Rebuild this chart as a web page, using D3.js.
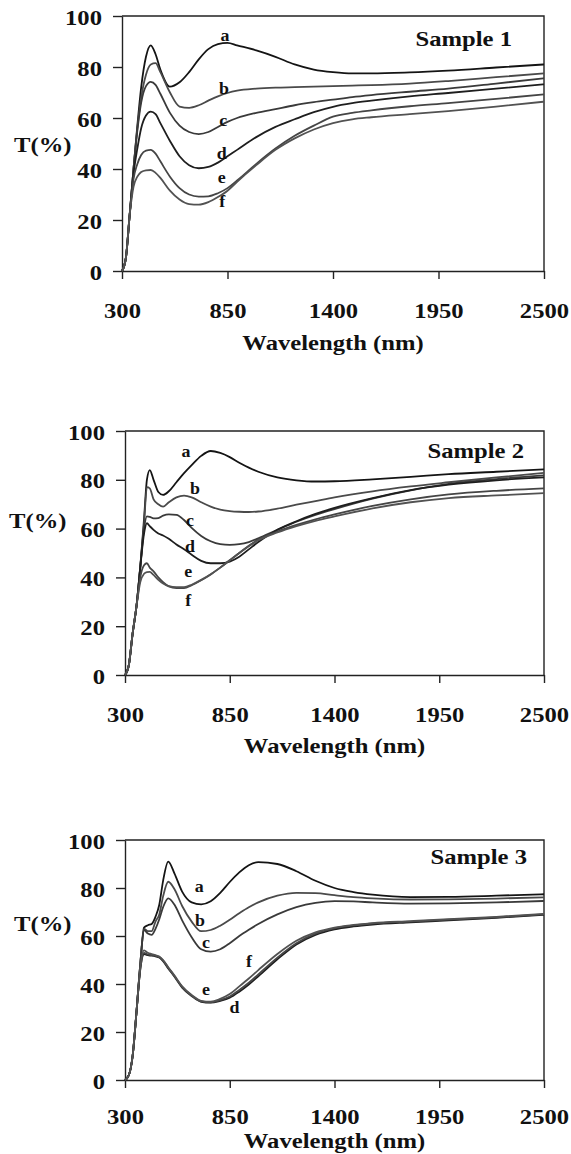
<!DOCTYPE html>
<html>
<head>
<meta charset="utf-8">
<script src="https://cdn.jsdelivr.net/npm/d3@7"></script>
<style>
  body { margin: 0; background: #fff; }
  svg { display: block; }
</style>
</head>
<body>
<div id="chart"></div>
<script>
// curve names and axis ticks shared by the three panels
const curveNames = ["a", "b", "c", "d", "e", "f"];
const xTicks = [300, 850, 1400, 1950, 2500];
const yTicks = [0, 20, 40, 60, 80, 100];

// Sample 1 (wavelength in nm, T in %)
const wl1 = [300, 320, 340, 360, 380, 400, 425, 450, 475, 500, 550, 600, 650, 700, 750, 800, 850, 900, 1000, 1100, 1200, 1300, 1400, 1500, 1600, 1800, 2000, 2250, 2500];
const s1a = [0, 5, 22, 40, 57, 72, 84, 88.5, 85, 79, 72.3, 74, 78, 83, 87, 89, 89.5, 88.5, 86.5, 84, 81, 79, 78, 77.5, 77.5, 77.9, 78.6, 79.8, 81];
const s1b = [0, 5, 22, 40, 56, 68, 77, 81, 81.5, 78, 70, 64.5, 64, 65, 66.8, 68.5, 69.8, 70.7, 71.5, 71.9, 72.1, 72.3, 72.5, 72.7, 72.9, 73.5, 74.5, 76, 77.5];
const s1c = [0, 5, 22, 40, 55, 66, 72.5, 74.2, 73, 69.5, 62, 57, 54.5, 53.7, 54.5, 56.5, 58.5, 60, 62, 63.5, 65, 66.2, 67.2, 68.2, 69, 70.3, 71.5, 73.5, 75.6];
const s1d = [0, 5, 22, 38, 48, 56, 61, 62.5, 61.5, 58, 51, 45, 41.5, 40.3, 40.8, 42.5, 45, 47.5, 52.5, 56.5, 59.5, 62.3, 64.4, 65.8, 66.8, 68.5, 69.8, 71.5, 73.2];
const s1e = [0, 5, 22, 36, 42, 45.5, 47.2, 47.5, 46, 43, 37, 32.5, 30, 29.2, 29.3, 30.5, 32.5, 35.5, 42, 48, 53, 57, 60.5, 62, 63, 64.6, 65.8, 67.5, 69.3];
const s1f = [0, 5, 22, 33, 37, 38.8, 39.5, 39.6, 38.5, 36.5, 31.5, 28, 26.2, 26, 27, 29, 31.5, 35, 41.5, 47.5, 52, 55.5, 58, 59.5, 60.3, 61.5, 62.7, 64.5, 66.4];
// where the letters a-f sit, [nm, T]
const lab1 = [[837, 91.9], [832, 71], [828, 58.6], [820, 45.5], [820, 36], [822, 26.8]];

// Sample 2
const wl2 = [300, 320, 340, 360, 380, 400, 415, 430, 450, 475, 500, 530, 570, 610, 650, 700, 750, 800, 850, 900, 950, 1000, 1100, 1200, 1300, 1400, 1600, 1800, 2000, 2250, 2500];
const s2a = [0, 4, 17, 28, 44, 64, 80, 84, 80, 75, 73.8, 75.3, 79, 82.7, 86, 89.8, 91.8, 91, 89.3, 87, 85, 83.3, 81, 79.8, 79.3, 79.4, 80.2, 81.2, 82.3, 83.3, 84.3];
const s2b = [0, 4, 17, 28, 44, 62, 77, 76.5, 72, 70, 69, 70.8, 72.8, 73.5, 72.8, 70.8, 69, 67.8, 67.2, 66.9, 66.8, 67, 68.2, 69.8, 71.3, 72.8, 75.3, 77.3, 79, 81, 82.8];
const s2c = [0, 4, 17, 28, 44, 60, 65, 64.8, 64.2, 64.3, 65.3, 65.8, 65.6, 63.5, 60.3, 57, 54.8, 53.6, 53.3, 53.6, 54.5, 56, 59.5, 62.8, 65.6, 68, 72.3, 75.7, 78.3, 80.3, 81.8];
const s2d = [0, 4, 17, 28, 44, 58, 62.2, 61, 59.5, 58, 57.2, 55.8, 53.5, 51.5, 49.3, 46.8, 45.8, 45.8, 46.5, 48.5, 51.5, 54.5, 59.5, 63, 66, 68.5, 72.5, 75.8, 78, 79.8, 81];
const s2e = [0, 4, 17, 28, 40, 45, 45.8, 44, 42.5, 40, 38, 36.3, 35.6, 35.6, 36.8, 38.8, 41.2, 44, 47, 50, 53, 55.5, 58.8, 61.5, 63.8, 65.8, 69.3, 72, 74, 75.5, 76.5];
const s2f = [0, 4, 17, 28, 38, 41.5, 42.2, 42.3, 41, 39, 37.5, 36.4, 36, 36, 37, 39, 41.3, 44, 47, 50, 52.8, 55.2, 58.4, 61, 63.2, 65, 68.3, 70.8, 72.5, 73.6, 74.5];
const lab2 = [[620, 90.9], [667, 75.8], [641, 62.8], [641, 51.9], [632, 41.7], [632, 30]];

// Sample 3
const wl3 = [300, 320, 340, 360, 380, 400, 420, 440, 460, 480, 500, 527, 560, 600, 650, 700, 750, 800, 850, 900, 950, 1000, 1100, 1200, 1300, 1400, 1500, 1600, 1800, 2000, 2250, 2500];
const s3a = [0, 2, 10, 28, 48, 63.5, 64.5, 65, 68, 73, 83, 91, 86, 78.5, 74, 73.2, 74.5, 78, 82.5, 86.5, 89.5, 90.8, 90, 87, 83, 80, 78.3, 77.2, 76.2, 76.3, 76.8, 77.4];
const s3b = [0, 2, 10, 28, 48, 63, 62, 62, 66, 69, 76.5, 82.6, 79.5, 72.5, 66, 62, 62.5, 64.3, 66.8, 69.5, 72, 74, 76.8, 78, 77.9, 77, 76.2, 75.7, 75.2, 75.3, 75.6, 76.1];
const s3c = [0, 2, 10, 28, 48, 62.5, 61, 60.5, 63, 67, 72, 75.7, 73, 66.5, 59.5, 54.5, 53.5, 54.5, 57, 60, 62.6, 65, 69, 72, 73.8, 74.5, 74.4, 74, 73.5, 73.6, 74, 74.6];
const s3d = [0, 2, 10, 28, 46, 52.5, 52, 51.8, 51.5, 51, 49.5, 46.5, 43, 38.5, 35, 32.6, 32.2, 33, 34.3, 36.8, 39.8, 43.2, 50.3, 56.5, 60.5, 62.8, 64, 64.8, 65.7, 66.5, 67.6, 68.8];
const s3e = [0, 2, 10, 28, 46, 53, 52.3, 52, 51.7, 51.2, 49.8, 46.8, 43.2, 38.8, 35.2, 32.8, 32.4, 33.3, 34.8, 37.5, 40.5, 44, 51, 57, 61, 63.2, 64.4, 65.2, 66, 66.8, 67.8, 69];
const s3f = [0, 2, 10, 28, 47, 54, 53, 52.5, 52, 51.5, 50, 47, 43.5, 39, 35.4, 33, 32.6, 33.8, 35.8, 39, 42.3, 45.8, 52.5, 58, 61.5, 63.5, 64.6, 65.4, 66.2, 67, 68, 69.2];
const lab3 = [[690, 79.9], [694, 66], [725, 56.7], [875, 29.6], [725, 37.2], [951, 48.6]];

const W = 571, H = 1154;
const serif = "'Liberation Serif', 'Times New Roman', Times, serif";
const stretch = 1.12;   // the scan is a bit wide, so text gets stretched sideways
const lineColors = ["#141414", "#4a4a4a", "#3a3a3a", "#1e1e1e", "#454545", "#525252"];

const svg = d3.select("#chart")
    .append("svg")
    .attr("width", W)
    .attr("height", H);

// bold serif text, stretched horizontally
function label(g, x, y, str, size, anchor, sx = stretch) {
    return g.append("text")
        .attr("transform", `translate(${x},${y}) scale(${sx},1)`)
        .attr("text-anchor", anchor)
        .style("font-family", serif)
        .style("font-weight", "bold")
        .style("font-size", size + "px")
        .style("fill", "#111")
        .text(str);
}

const panels = [
    { title: "Sample 1", wl: wl1, series: [s1a, s1b, s1c, s1d, s1e, s1f], labs: lab1,
      left: 122, right: 544, top: 16, bottom: 271, tx: 14, ty: 152, titleX: 512, titleY: 46,
      tickY: 47, wlY: 350, wlSize: 22 },
    { title: "Sample 2", wl: wl2, series: [s2a, s2b, s2c, s2d, s2e, s2f], labs: lab2,
      left: 125, right: 544, top: 431, bottom: 675, tx: 9, ty: 528, titleX: 524, titleY: 458,
      tickY: 47, wlY: 753, wlSize: 22 },
    { title: "Sample 3", wl: wl3, series: [s3a, s3b, s3c, s3d, s3e, s3f], labs: lab3,
      left: 125, right: 544, top: 840, bottom: 1080, tx: 14, ty: 931, titleX: 527, titleY: 864,
      tickY: 44, wlY: 1148, wlSize: 20.5 }
];

panels.forEach(p => {
    const g = svg.append("g");

    const x = d3.scaleLinear().domain([300, 2500]).range([p.left, p.right]);
    const y = d3.scaleLinear().domain([0, 100]).range([p.bottom, p.top]);

    // y axis
    const yAxis = g.append("g")
        .attr("transform", `translate(${p.left},0)`)
        .call(d3.axisLeft(y).tickValues(yTicks).tickSize(9).tickSizeOuter(0));
    yAxis.selectAll("text")
        .attr("x", null).attr("dy", null)
        .attr("transform", `translate(-20,8) scale(${stretch},1)`)
        .style("font-family", serif)
        .style("font-weight", "bold")
        .style("font-size", "22px")
        .style("fill", "#111");

    // x axis, plain numbers without thousands comma
    const xAxis = g.append("g")
        .attr("transform", `translate(0,${p.bottom})`)
        .call(d3.axisBottom(x).tickValues(xTicks).tickFormat(d3.format("d")).tickSize(8).tickSizeOuter(0));
    xAxis.selectAll("text")
        .attr("y", null).attr("dy", null)
        .attr("transform", `translate(0,${p.tickY}) scale(${stretch},1)`)
        .style("font-family", serif)
        .style("font-weight", "bold")
        .style("font-size", "22px")
        .style("fill", "#111");

    g.selectAll(".domain, .tick line")
        .attr("stroke", "#222")
        .attr("stroke-width", 1.4);

    // top and right frame
    g.append("path")
        .attr("d", `M${p.left},${p.top}H${p.right}V${p.bottom}`)
        .attr("fill", "none")
        .attr("stroke", "#222")
        .attr("stroke-width", 1.4);

    const line = d3.line()
        .x(d => x(d[0]))
        .y(d => y(d[1]))
        .curve(d3.curveMonotoneX);

    g.selectAll(".spectrum")
        .data(p.series)
        .join("path")
        .attr("class", "spectrum")
        .attr("fill", "none")
        .attr("stroke", (d, i) => lineColors[i])
        .attr("stroke-width", 1.8)
        .attr("d", d => line(d.map((v, i) => [p.wl[i], v])));

    p.labs.forEach((l, i) => {
        label(g, x(l[0]), y(l[1]) + 4, curveNames[i], 16, "middle");
    });

    label(g, p.titleX, p.titleY, p.title, 22, "end");
    label(g, p.tx, p.ty, "T(%)", 22, "start");
    label(g, (p.left + p.right) / 2, p.wlY, "Wavelength (nm)", p.wlSize, "middle", stretch * 22 / p.wlSize);
});
</script>
</body>
</html>
